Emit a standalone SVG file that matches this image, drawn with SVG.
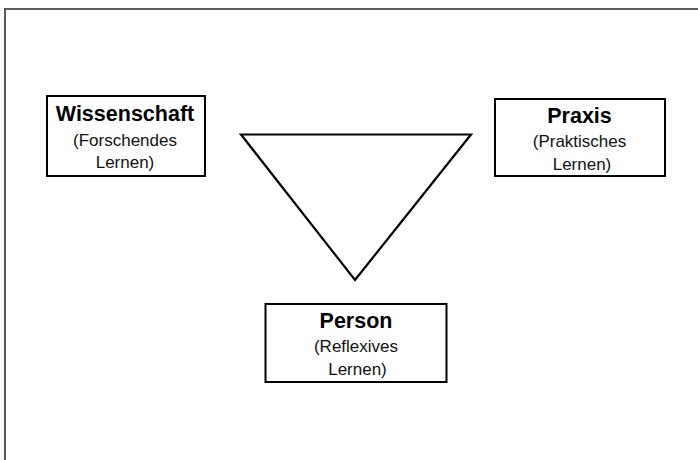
<svg xmlns="http://www.w3.org/2000/svg" width="698" height="460" viewBox="0 0 698 460">
<style>
.box{fill:#fff;stroke:#000;stroke-width:2}
.t{font-family:"Liberation Sans",Arial,sans-serif;text-anchor:middle;fill:#000}
.h{font-weight:bold;font-size:21.5px}
.s{font-size:17px;fill:#111}
</style>
<rect width="698" height="460" fill="#fff"/>
<path d="M5,460 V9 H698" fill="none" stroke="#5a5a5a" stroke-width="2"/>
<g id="connectors">
<polygon points="241,134.5 471,134.5 355,280" fill="#fff" stroke="#000" stroke-width="2.2" stroke-linejoin="miter"/>
</g>
<g id="wissenschaft">
<rect class="box" x="47" y="96" width="158" height="80"/>
<text class="t h" x="125" y="121">Wissenschaft</text>
<text class="t s" x="125" y="146">(Forschendes</text>
<text class="t s" x="125" y="168">Lernen)</text>
</g>
<g id="praxis">
<rect class="box" x="495" y="99" width="170" height="77"/>
<text class="t h" x="579.5" y="123">Praxis</text>
<text class="t s" x="579.5" y="147">(Praktisches</text>
<text class="t s" x="582" y="170">Lernen)</text>
</g>
<g id="person">
<rect class="box" x="265.5" y="304" width="181" height="78"/>
<text class="t h" x="356" y="328">Person</text>
<text class="t s" x="356" y="352">(Reflexives</text>
<text class="t s" x="357.5" y="375">Lernen)</text>
</g>
</svg>
